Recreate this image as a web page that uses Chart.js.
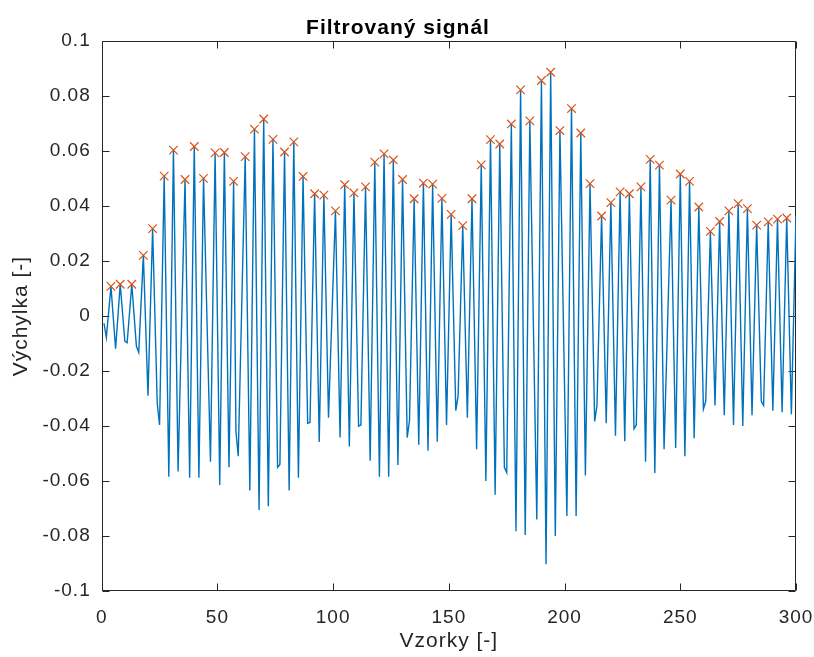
<!DOCTYPE html>
<html>
<head>
<meta charset="utf-8">
<title>Filtrovaný signál</title>
<script src="https://cdn.jsdelivr.net/npm/chart.js@4/dist/chart.umd.min.js"></script>
<style>
    html,body{margin:0;padding:0;background:#ffffff;}
    canvas{display:block;}
</style>
</head>
<body>
<canvas id="signalChart" width="814" height="657"></canvas>
<script>
/* ==========================================
   DATA
========================================== */

// detected peaks (sample index / amplitude) - the orange x markers
const peakIdx = [
    4, 8, 13, 18, 22, 27, 31, 36, 40, 44,
    49, 53, 57, 62, 66, 70, 74, 79, 83, 87,
    92, 96, 101, 105, 109, 114, 118, 122, 126, 130,
    135, 139, 143, 147, 151, 156, 160, 164, 168, 172,
    177, 181, 185, 190, 194, 198, 203, 207, 211, 216,
    220, 224, 228, 233, 237, 241, 246, 250, 254, 258,
    263, 267, 271, 275, 279, 283, 288, 292, 296
];

const peakVal = [
    0.0108, 0.0116, 0.0116, 0.0221, 0.0318, 0.0509, 0.0604, 0.0497, 0.0617, 0.0501,
    0.0594, 0.0595, 0.0490, 0.0580, 0.0680, 0.0717, 0.0643, 0.0597, 0.0634, 0.0508,
    0.0445, 0.0440, 0.0383, 0.0478, 0.0448, 0.0470, 0.0560, 0.0590, 0.0568, 0.0497,
    0.0427, 0.0484, 0.0480, 0.0428, 0.0370, 0.0329, 0.0427, 0.0550, 0.0642, 0.0626,
    0.0699, 0.0823, 0.0710, 0.0857, 0.0887, 0.0675, 0.0755, 0.0666, 0.0482, 0.0364,
    0.0413, 0.0452, 0.0445, 0.0470, 0.0570, 0.0549, 0.0422, 0.0517, 0.0490, 0.0397,
    0.0308, 0.0344, 0.0383, 0.0409, 0.0391, 0.0331, 0.0343, 0.0353, 0.0357
];

// the other readable samples of the signal (troughs, shoulders, ends)
const sampleIdx = [
    1, 2, 6, 10, 11, 15, 16, 20, 24, 25,
    29, 33, 38, 42, 47, 51, 55, 58, 59, 64,
    68, 72, 76, 77, 81, 85, 89, 90, 94, 98,
    103, 107, 111, 112, 116, 120, 124, 128, 132, 133,
    137, 141, 145, 149, 153, 154, 158, 162, 166, 170,
    174, 175, 179, 183, 188, 192, 196, 201, 205, 209,
    213, 214, 218, 222, 226, 230, 231, 235, 239, 243,
    248, 252, 256, 260, 261, 265, 269, 273, 277, 281,
    285, 286, 290, 294, 298, 300
];

const sampleVal = [
    -0.0026, -0.0078, -0.0119, -0.0091, -0.0097, -0.0110, -0.0132, -0.0290, -0.0318, -0.0396,
    -0.0584, -0.0565, -0.0588, -0.0588, -0.0530, -0.0614, -0.0550, -0.0420, -0.0510, -0.0634,
    -0.0705, -0.0692, -0.0550, -0.0540, -0.0634, -0.0588, -0.0390, -0.0387, -0.0458, -0.0370,
    -0.0442, -0.0474, -0.0400, -0.0396, -0.0526, -0.0584, -0.0584, -0.0542, -0.0442, -0.0380,
    -0.0468, -0.0490, -0.0457, -0.0396, -0.0344, -0.0290, -0.0370, -0.0484, -0.0600, -0.0650,
    -0.0550, -0.0569, -0.0783, -0.0796, -0.0740, -0.0903, -0.0800, -0.0727, -0.0727, -0.0580,
    -0.0383, -0.0325, -0.0390, -0.0435, -0.0455, -0.0410, -0.0396, -0.0530, -0.0571, -0.0484,
    -0.0480, -0.0510, -0.0444, -0.0338, -0.0310, -0.0325, -0.0361, -0.0396, -0.0400, -0.0361,
    -0.0310, -0.0325, -0.0344, -0.0350, -0.0357, 0.0364
];

const xTicks = [0, 50, 100, 150, 200, 250, 300];
const yTicks = [-0.1, -0.08, -0.06, -0.04, -0.02, 0, 0.02, 0.04, 0.06, 0.08, 0.1];


/* ==========================================
   COLORS / FONTS
========================================== */

const LINE_COLOR = "#0072bd";
const PEAK_COLOR = "#d95319";
const AXIS_COLOR = "#262626";

Chart.defaults.font.family = "'Liberation Sans', Arial, Helvetica, sans-serif";
Chart.defaults.color = AXIS_COLOR;


/* ==========================================
   BUILD POINTS
========================================== */

function buildSignal(){

    const pts = [];

    peakIdx.forEach((x,i)=>pts.push({x:x,y:peakVal[i]}));

    sampleIdx.forEach((x,i)=>pts.push({x:x,y:sampleVal[i]}));

    pts.sort((a,b)=>a.x-b.x);

    return pts;

}

const peakPoints = peakIdx.map((x,i)=>({x:x,y:peakVal[i]}));


/* ==========================================
   PLUGINS
========================================== */

// matlab-ish text looks a bit wider than Arial
const spacingPlugin = {

    id:"spacing",

    beforeLayout(chart){ chart.ctx.letterSpacing = "1px"; },

    beforeDraw(chart){ chart.ctx.letterSpacing = "1px"; }

};

// box round the axes + ticks pointing inwards on all four sides
const boxPlugin = {

    id:"box",

    beforeDatasetsDraw(chart){

        const {ctx, chartArea, scales} = chart;

        const l = Math.round(chartArea.left) + 0.5;
        const r = Math.round(chartArea.right) - 0.5;
        const t = Math.round(chartArea.top) + 0.5;
        const b = Math.round(chartArea.bottom) - 0.5;

        const len = 7;

        ctx.save();

        ctx.strokeStyle = AXIS_COLOR;

        ctx.lineWidth = 1;

        ctx.beginPath();

        ctx.rect(l, t, r - l, b - t);

        scales.x.ticks.forEach(tk=>{

            const px = Math.round(scales.x.getPixelForValue(tk.value)) + 0.5;

            ctx.moveTo(px, b); ctx.lineTo(px, b - len);

            ctx.moveTo(px, t); ctx.lineTo(px, t + len);

        });

        scales.y.ticks.forEach(tk=>{

            const py = Math.round(scales.y.getPixelForValue(tk.value)) + 0.5;

            ctx.moveTo(l, py); ctx.lineTo(l + len, py);

            ctx.moveTo(r, py); ctx.lineTo(r - len, py);

        });

        ctx.stroke();

        ctx.restore();

    }

};


/* ==========================================
   CHART
========================================== */

const ctx = document.getElementById("signalChart").getContext("2d");

new Chart(ctx,{

    type:"line",

    data:{

        datasets:[

            {
                label:"Vrcholy",
                data:peakPoints,
                showLine:false,
                pointStyle:"crossRot",
                pointRadius:6,
                pointBorderWidth:1.2,
                pointBorderColor:PEAK_COLOR,
                pointBackgroundColor:PEAK_COLOR,
                order:0
            },

            {
                label:"Signál",
                data:buildSignal(),
                borderColor:LINE_COLOR,
                borderWidth:1.4,
                pointRadius:0,
                tension:0,
                fill:false,
                order:1
            }

        ]

    },

    options:{

        responsive:false,

        devicePixelRatio:1,

        animation:false,

        layout:{

            padding:{left:0, right:18, top:0, bottom:0}

        },

        plugins:{

            legend:{display:false},

            tooltip:{enabled:false},

            title:{

                display:true,

                text:"Filtrovaný signál",

                color:"#000000",

                font:{size:21, weight:"bold"},

                padding:{top:16, bottom:0}

            }

        },

        scales:{

            x:{

                type:"linear",

                min:0,

                max:300,

                afterBuildTicks(scale){ scale.ticks = xTicks.map(v=>({value:v})); },

                afterFit(scale){

                    scale.height = 66;

                    scale.paddingLeft = 0;

                    scale.paddingRight = 0;

                },

                grid:{display:false, drawTicks:false},

                border:{display:false},

                ticks:{

                    padding:15,

                    maxRotation:0,

                    font:{size:19},

                    callback:v=>String(v)

                },

                title:{

                    display:true,

                    text:"Vzorky [-]",

                    font:{size:21},

                    padding:{top:0, bottom:3}

                }

            },

            y:{

                min:-0.1,

                max:0.1,

                afterBuildTicks(scale){ scale.ticks = yTicks.map(v=>({value:v})); },

                afterFit(scale){

                    scale.width = 101.7;

                    scale.paddingTop = 0;

                    scale.paddingBottom = 0;

                },

                grid:{display:false, drawTicks:false},

                border:{display:false},

                ticks:{

                    padding:11,

                    font:{size:19},

                    callback:v=>String(parseFloat(Number(v).toFixed(2)) || 0)

                },

                title:{

                    display:true,

                    text:"Výchylka [-]",

                    font:{size:21},

                    padding:{top:9, bottom:0}

                }

            }

        }

    },

    plugins:[spacingPlugin, boxPlugin]

});
</script>
</body>
</html>
